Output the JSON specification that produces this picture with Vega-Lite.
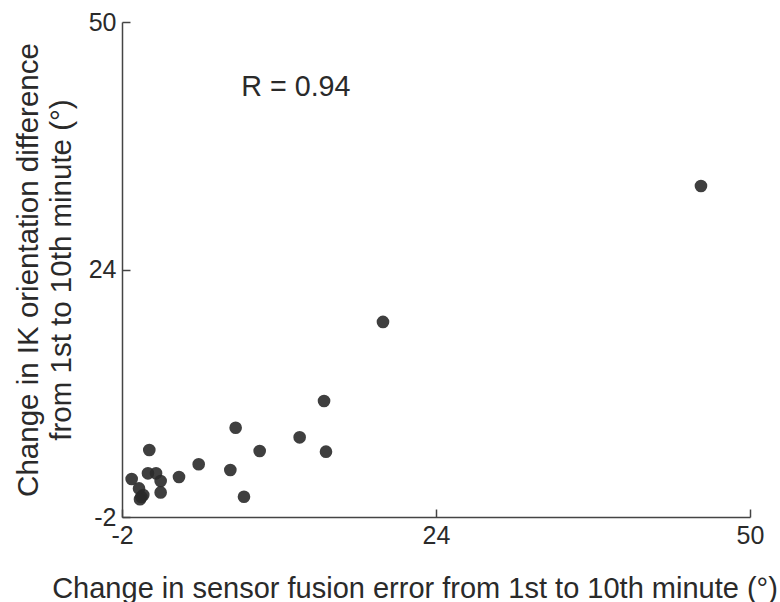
{
  "$schema": "https://vega.github.io/schema/vega-lite/v6.json",
  "autosize": {"type": "none"},
  "width": 628,
  "height": 495,
  "padding": {"left": 122, "top": 22, "right": 30, "bottom": 85},
  "background": "white",
  "config": {
    "view": {"stroke": null},
    "font": "Liberation Sans",
    "axis": {
      "domainColor": "#444",
      "tickColor": "#444",
      "labelColor": "#2a2a2a",
      "titleColor": "#2a2a2a",
      "labelFontSize": 25,
      "titleFontSize": 29.5,
      "titleFontWeight": "normal",
      "grid": false,
      "tickSize": -8,
      "domainWidth": 1.5,
      "tickWidth": 1.5
    }
  },
  "datasets": {
    "pts": [
      {"sf": 45.94, "ik": 32.77},
      {"sf": 19.61, "ik": 18.49},
      {"sf": 14.73, "ik": 10.19},
      {"sf": 7.41, "ik": 7.38},
      {"sf": 12.71, "ik": 6.37},
      {"sf": 0.26, "ik": 5.04},
      {"sf": 9.40, "ik": 4.93},
      {"sf": 14.89, "ik": 4.86},
      {"sf": 4.35, "ik": 3.54},
      {"sf": 6.97, "ik": 2.94},
      {"sf": 2.72, "ik": 2.20},
      {"sf": 0.15, "ik": 2.59},
      {"sf": 0.82, "ik": 2.59},
      {"sf": 1.20, "ik": 1.78},
      {"sf": -1.20, "ik": 1.99},
      {"sf": -0.59, "ik": 1.00},
      {"sf": -0.24, "ik": 0.31},
      {"sf": -0.40, "ik": 0.10},
      {"sf": -0.51, "ik": -0.14},
      {"sf": 1.20, "ik": 0.58},
      {"sf": 8.10, "ik": 0.13}
    ],
    "ann": [{"sf": 12.4, "ik": 43.15, "label": "R = 0.94"}]
  },
  "layer": [
    {
      "data": {"name": "pts"},
      "mark": {"type": "circle", "size": 160, "color": "#2a2a2a", "opacity": 0.9},
      "encoding": {
        "x": {
          "field": "sf", "type": "quantitative",
          "scale": {"domain": [-2, 50], "nice": false, "zero": false},
          "axis": {
            "values": [-2, 24, 50],
            "labelExpr": "replace(datum.label, '\u2212', '-')",
            "title": "Change in sensor fusion error from 1st to 10th minute (°)",
            "titleFontSize": 29,
            "labelPadding": 14,
            "labelFlush": false,
            "titleX": 292.5,
            "titleY": 80,
            "titleAlign": "center",
            "titleAnchor": null,
            "titleBaseline": "alphabetic"
          }
        },
        "y": {
          "field": "ik", "type": "quantitative",
          "scale": {"domain": [-2, 50], "nice": false, "zero": false},
          "axis": {
            "values": [-2, 24, 50],
            "labelExpr": "replace(datum.label, '\u2212', '-')",
            "title": ["Change in IK orientation difference", "from 1st to 10th minute (°)"],
            "labelPadding": 14,
            "labelFlush": false,
            "titleAngle": -90,
            "titleX": -85,
            "titleY": 247.5,
            "titleAlign": "center",
            "titleBaseline": "alphabetic",
            "titleLineHeight": 33
          }
        }
      }
    },
    {
      "data": {"name": "ann"},
      "mark": {"type": "text", "fontSize": 28.7, "color": "#2a2a2a", "align": "center", "baseline": "middle"},
      "encoding": {
        "x": {"field": "sf", "type": "quantitative"},
        "y": {"field": "ik", "type": "quantitative"},
        "text": {"field": "label"}
      }
    }
  ]
}
